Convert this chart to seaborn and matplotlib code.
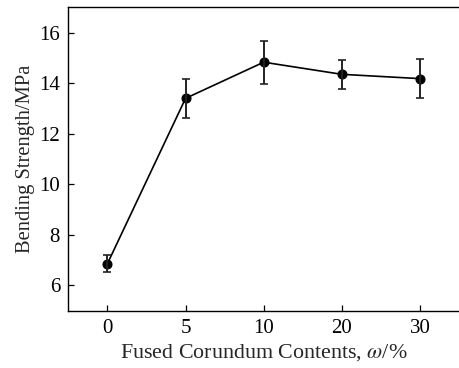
import numpy as np
import pandas as pd
import matplotlib
matplotlib.use("Agg")
import matplotlib.pyplot as plt
import seaborn as sns

# data
contents = ["0", "5", "10", "20", "30"]
strength = [6.86, 13.40, 14.83, 14.35, 14.18]
strength_err = [0.33, 0.77, 0.85, 0.58, 0.78]

sns.set_theme(style="ticks")
plt.rcParams['font.family'] = ['Liberation Serif', 'DejaVu Serif']
plt.rcParams['mathtext.fontset'] = 'stix'

df = pd.DataFrame({"content": contents, "strength": strength})

fig = plt.figure(figsize=(4.59, 3.68), dpi=100)
ax = fig.add_axes([0.149, 0.156, 0.851, 0.824])

pos = np.arange(len(contents))
sns.lineplot(x=pos, y=df["strength"], ax=ax, color="black", linewidth=1.2,
             marker="o", markersize=6.5, markeredgecolor="black")
ax.errorbar(pos, strength, yerr=strength_err, fmt="none", ecolor="#222222",
            elinewidth=1.4, capsize=2.6, capthick=1.2)

ax.set_xlim(-0.5, 4.5)
ax.set_ylim(5, 17)
ax.set_xticks(pos)
ax.set_xticklabels(contents)
ax.set_yticks([6, 8, 10, 12, 14, 16])

ax.tick_params(direction="in", length=4.5, width=0.9, labelsize=15, colors="black", pad=6)
ax.spines["right"].set_visible(False)
for s in ["left", "top", "bottom"]:
    ax.spines[s].set_linewidth(1.0)
    ax.spines[s].set_color("black")

ax.set_xlabel(r"Fused Corundum Contents, $\omega$/%", fontsize=15.8, labelpad=3)
ax.set_ylabel("Bending Strength/MPa", fontsize=14.8, labelpad=3)

fig.savefig("out.png", dpi=100)
